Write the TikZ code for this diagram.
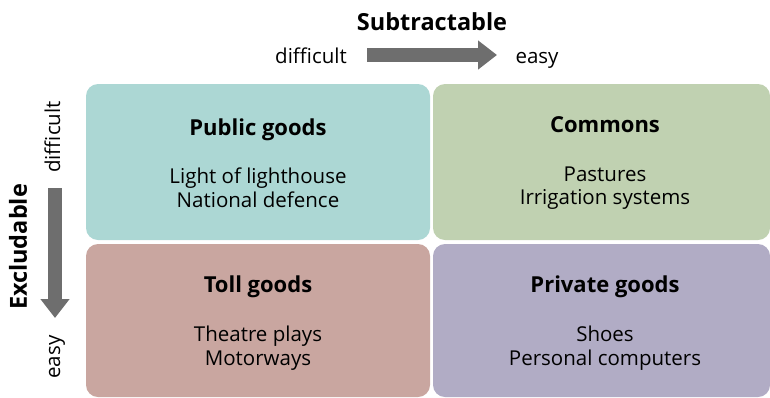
\documentclass[tikz,border=0pt]{standalone}
\usepackage{fontspec}
\setmainfont{Open Sans}
\usetikzlibrary{arrows.meta}

\definecolor{publiccol}{RGB}{172,215,212}
\definecolor{commonscol}{RGB}{192,209,177}
\definecolor{tollcol}{RGB}{201,166,160}
\definecolor{privatecol}{RGB}{177,172,197}
\definecolor{arrowcol}{RGB}{110,110,110}

\tikzset{
  quad/.style={rounded corners=12pt},
  heading/.style={anchor=base, font=\fontsize{22}{26}\selectfont\bfseries},
  axisname/.style={anchor=base, font=\fontsize{23.5}{28}\selectfont\bfseries},
  axislabel/.style={anchor=base, font=\fontsize{20.5}{24}\selectfont},
  example/.style={anchor=base, font=\fontsize{20.5}{24}\selectfont},
  bigarrow/.style={arrowcol, line width=14pt, -{Triangle[width=28pt,length=19pt]}},
}

\begin{document}
\begin{tikzpicture}[x=1pt,y=-1pt]
  \clip (0,0) rectangle (770,397);
  % quadrants
  \fill[publiccol,quad] (86,84) rectangle (430,240);
  \fill[commonscol,quad] (433,84) rectangle (770,240);
  \fill[tollcol,quad] (86,244) rectangle (430,397);
  \fill[privatecol,quad] (433,244) rectangle (770,397);

  % subtractable axis
  \node[axisname] (subtr) at (432,30) {Subtractable};
  \node[axislabel] (sdiff) at (311,63) {difficult};
  \node[axislabel] (seasy) at (537,63) {easy};
  \coordinate (sfrom) at (367,55);
  \coordinate (sto) at (497,55);
  \draw[bigarrow] (sfrom) -- (sto);

  % excludable axis
  \node[axisname, rotate=90] (excl) at (27,247) {Excludable};
  \node[axislabel, rotate=90] (ediff) at (60,137) {difficult};
  \node[axislabel, rotate=90] (eeasy) at (60,357) {easy};
  \coordinate (efrom) at (55,188);
  \coordinate (eto) at (55,318);
  \draw[bigarrow] (efrom) -- (eto);

  % public goods
  \node[heading] (pubt) at (258,135) {Public goods};
  \node[example] (pub1) at (258,183) {Light of lighthouse};
  \node[example] (pub2) at (258,207) {National defence};

  % commons
  \node[heading] (comt) at (605,132) {Commons};
  \node[example] (com1) at (605,181) {Pastures};
  \node[example] (com2) at (605,204) {Irrigation systems};

  % toll goods
  \node[heading] (tollt) at (258,292) {Toll goods};
  \node[example] (toll1) at (258,341) {Theatre plays};
  \node[example] (toll2) at (258,365) {Motorways};

  % private goods
  \node[heading] (privt) at (605,292) {Private goods};
  \node[example] (priv1) at (605,341) {Shoes};
  \node[example] (priv2) at (605,365) {Personal computers};
\end{tikzpicture}
\end{document}
